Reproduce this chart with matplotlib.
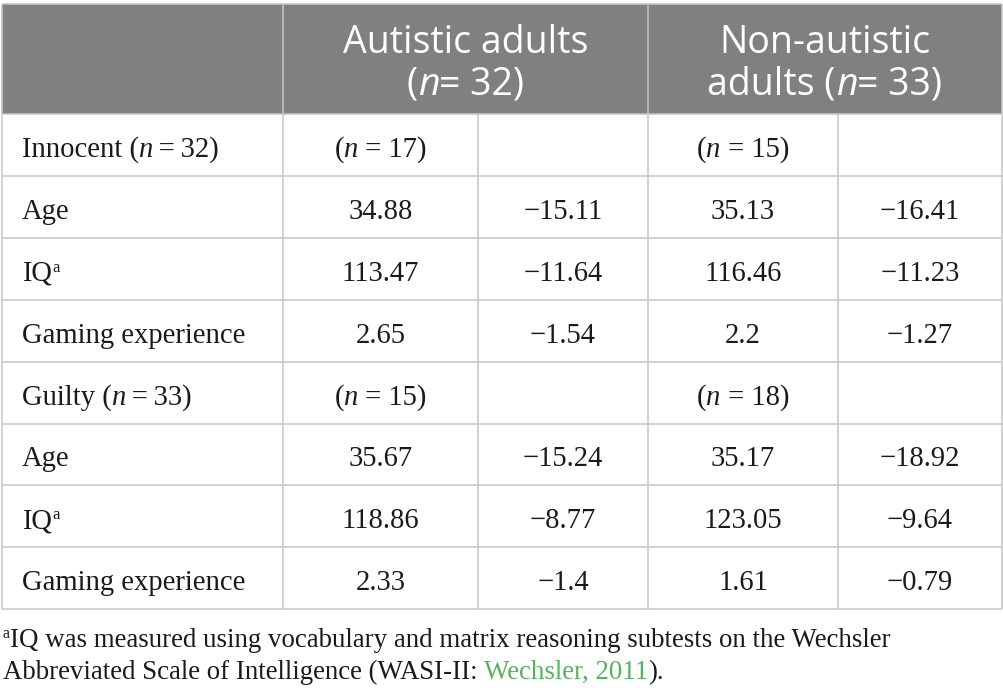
import matplotlib
matplotlib.use("Agg")
import matplotlib.pyplot as plt
from matplotlib.patches import Rectangle

# ---- table content ----
group_titles = [["Autistic adults", [("(", "normal"), ("n", "italic"), ("= 32)", "normal")]],
                ["Non-autistic", [("adults (", "normal"), ("n", "italic"), ("= 33)", "normal")]]]

section_labels = ["Innocent", "Guilty"]
section_n = [32, 33]
autistic_n = [17, 15]
non_autistic_n = [15, 18]

measure_labels = ["Age", "IQ", "Gaming experience"]

innocent_autistic_mean = [34.88, 113.47, 2.65]
innocent_autistic_sd = [-15.11, -11.64, -1.54]
innocent_non_mean = [35.13, 116.46, 2.2]
innocent_non_sd = [-16.41, -11.23, -1.27]

guilty_autistic_mean = [35.67, 118.86, 2.33]
guilty_autistic_sd = [-15.24, -8.77, -1.4]
guilty_non_mean = [35.17, 123.05, 1.61]
guilty_non_sd = [-18.92, -9.64, -0.79]

footnote_1 = "IQ was measured using vocabulary and matrix reasoning subtests on the Wechsler"
footnote_2 = "Abbreviated Scale of Intelligence (WASI-II: "
footnote_ref = "Wechsler, 2011"
footnote_end = ")."

# ---- style ----
W, H = 1004, 699
HEAD_BG = "#808080"
GRID = "#c6c6c6"
INK = "#1a1a1a"
LINK = "#56b35a"
SERIF = "Liberation Serif"
SANS = "Open Sans"
BODY = 20.6
FOOT = 19.4
HEAD = 27

col_x = [2, 283, 478, 648, 838, 1002]
head_top, head_bot = 4, 114
row_h = 61.9
n_rows = 8

fig = plt.figure(figsize=(W / 100, H / 100), dpi=100)
ax = fig.add_axes([0, 0, 1, 1])
ax.set_xlim(0, W)
ax.set_ylim(H, 0)
ax.axis("off")
renderer = fig.canvas.get_renderer()


def fmt(v):
    return f"{v:g}".replace("-", "\u2212")


def text_w(txt, family, size, style="normal"):
    t = ax.text(0, 0, txt, fontfamily=family, fontstyle=style, fontsize=size)
    w = t.get_window_extent(renderer=renderer).width
    t.remove()
    return w


def rich(x, y, parts, family, size, color, ha="left"):
    # parts: (text, style) or (text, style, size, dy)
    items = []
    for p in parts:
        txt, st = p[0], p[1]
        sz = p[2] if len(p) > 2 else size
        dy = p[3] if len(p) > 3 else 0
        items.append((txt, st, sz, dy, text_w(txt, family, sz, st)))
    total = sum(i[4] for i in items)
    cx = x - total / 2 if ha == "center" else x
    for txt, st, sz, dy, w in items:
        ax.text(cx, y - dy, txt, fontfamily=family, fontstyle=st, fontsize=sz,
                color=color, ha="left", va="baseline")
        cx += w
    return cx


# header background
ax.add_patch(Rectangle((col_x[0], head_top), col_x[-1] - col_x[0], head_bot - head_top,
                       facecolor=HEAD_BG, edgecolor="none", zorder=0))

# header text
spans = [(col_x[1], col_x[3]), (col_x[3], col_x[5])]
for (x0, x1), (line1, line2) in zip(spans, group_titles):
    cx = (x0 + x1) / 2
    rich(cx, 53, [(line1, "normal")], SANS, HEAD, "white", ha="center")
    rich(cx, 95, line2, SANS, HEAD, "white", ha="center")

# grid
row_tops = [head_bot + i * row_h for i in range(n_rows + 1)]
ax.hlines([head_top], col_x[0], col_x[-1], color=GRID, lw=1.1)
ax.hlines(row_tops, col_x[0], col_x[-1], color=GRID, lw=1.1)
ax.vlines([col_x[0], col_x[1], col_x[3], col_x[5]], head_top, row_tops[-1], color=GRID, lw=1.1)
ax.vlines([col_x[2], col_x[4]], head_bot, row_tops[-1], color=GRID, lw=1.1)

centers = [(col_x[i] + col_x[i + 1]) / 2 for i in range(1, 5)]

sections = [
    (innocent_autistic_mean, innocent_autistic_sd, innocent_non_mean, innocent_non_sd),
    (guilty_autistic_mean, guilty_autistic_sd, guilty_non_mean, guilty_non_sd),
]

r = 0
for s, cols in enumerate(sections):
    base = row_tops[r] + 43
    rich(22, base, [(section_labels[s] + " (", "normal"), ("n", "italic"),
                    ("\u2009=\u2009" + str(section_n[s]) + ")", "normal")], SERIF, BODY, INK)
    for cx, nn in ((centers[0], autistic_n[s]), (centers[2], non_autistic_n[s])):
        rich(cx, base, [("(", "normal"), ("n", "italic"), (" = " + str(nn) + ")", "normal")],
             SERIF, BODY, INK, ha="center")
    r += 1
    for k, lab in enumerate(measure_labels):
        base = row_tops[r] + 43
        if lab == "IQ":
            rich(22, base, [("IQ", "normal"), ("a", "normal", 12, 9)], SERIF, BODY, INK)
        else:
            rich(22, base, [(lab, "normal")], SERIF, BODY, INK)
        for cx, vals in zip(centers, cols):
            ax.text(cx, base, fmt(vals[k]), fontfamily=SERIF, fontsize=BODY, color=INK,
                    ha="center", va="baseline")
        r += 1

# footnote
rich(3, 647, [("a", "normal", 11.5, 9), (footnote_1, "normal")], SERIF, FOOT, INK)
x = rich(3, 679, [(footnote_2, "normal")], SERIF, FOOT, INK)
x = rich(x, 679, [(footnote_ref, "normal")], SERIF, FOOT, LINK)
rich(x, 679, [(footnote_end, "normal")], SERIF, FOOT, INK)

fig.savefig("out.png", dpi=100)
